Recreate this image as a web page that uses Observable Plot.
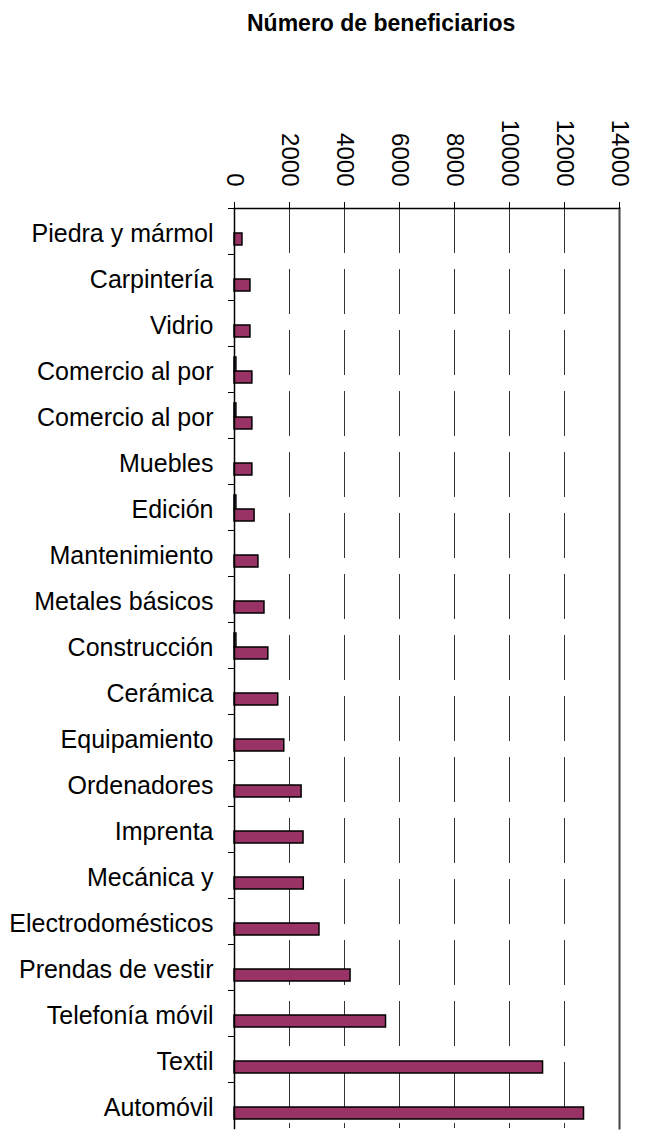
<!DOCTYPE html>
<html>
<head>
<meta charset="utf-8">
<script src="https://cdn.jsdelivr.net/npm/d3@7"></script>
<script src="https://cdn.jsdelivr.net/npm/@observablehq/plot@0.6"></script>
<style>
  html, body { margin: 0; padding: 0; background: #fff; }
  #wrap { position: relative; width: 645px; height: 1130px; }
  #chart { position: absolute; left: 0; top: 0; z-index: 1; }
  #title { position: absolute; left: 247px; top: 12px; z-index: 2; font: bold 23px "Liberation Sans", Arial, sans-serif; line-height: 23px; color: #000; white-space: nowrap; }
</style>
</head>
<body>
<div id="wrap">
  <div id="chart"></div>
  <div id="title">Número de beneficiarios</div>
</div>
<script>
const categories = ["Piedra y mármol","Carpintería","Vidrio","Comercio al por","Comercio al por","Muebles","Edición","Mantenimiento","Metales básicos","Construcción","Cerámica","Equipamiento","Ordenadores","Imprenta","Mecánica y","Electrodomésticos","Prendas de vestir","Telefonía móvil","Textil","Automóvil"];
const seriesA = [0, 0, 0, 70, 70, 0, 70, 0, 0, 70, 0, 0, 0, 0, 0, 0, 0, 0, 0, 0];
const seriesB = [290, 580, 580, 650, 650, 650, 730, 870, 1090, 1230, 1590, 1810, 2440, 2510, 2520, 3090, 4220, 5510, 11220, 12710];
const xTicks = [0, 2000, 4000, 6000, 8000, 10000, 12000, 14000];
const gridTicks = [2000, 4000, 6000, 8000, 10000, 12000];

const idx = categories.map((_, i) => i);
const dataA = idx.map(i => ({i, v: seriesA[i]})).filter(d => d.v > 0);
const dataB = idx.map(i => ({i, v: seriesB[i]}));

const chart = Plot.plot({
  width: 645,
  height: 1130,
  marginTop: 208,
  marginBottom: 2,
  marginLeft: 234,
  marginRight: 26,
  style: {fontFamily: '"Liberation Sans", Arial, sans-serif', color: "#000", background: "transparent"},
  x: {domain: [0, 14000]},
  y: {type: "band", domain: idx, padding: 0},
  marks: [
    Plot.gridX(gridTicks, {stroke: "#333", strokeOpacity: 1, strokeWidth: 1, strokeDasharray: "45,16"}),
    Plot.barX(dataA, {x: "v", y: "i", fill: "#9999FF", stroke: "#000", strokeWidth: 1.5, insetTop: 11, insetBottom: 21}),
    Plot.barX(dataB, {x: "v", y: "i", fill: "#993366", stroke: "#000", strokeWidth: 1.5, insetTop: 25, insetBottom: 9}),
    Plot.frame({anchor: "top", stroke: "#000", strokeWidth: 1.5}),
    Plot.frame({anchor: "left", stroke: "#000", strokeWidth: 1.5}),
    Plot.frame({anchor: "right", stroke: "#444", strokeWidth: 2}),
    Plot.axisX({anchor: "top", ticks: xTicks, tickSize: 7, tickPadding: 15, tickRotate: 90, fontSize: 24, label: null, tickFormat: d => String(d)}),
    Plot.axisY({anchor: "left", tickSize: 6, dy: -23, tickFormat: () => "", label: null}),
    Plot.axisY({anchor: "left", tickSize: 0, tickPadding: 21, fontSize: 25, dy: 2, tickFormat: i => categories[i], label: null})
  ]
});
document.getElementById("chart").appendChild(chart);
</script>
</body>
</html>
